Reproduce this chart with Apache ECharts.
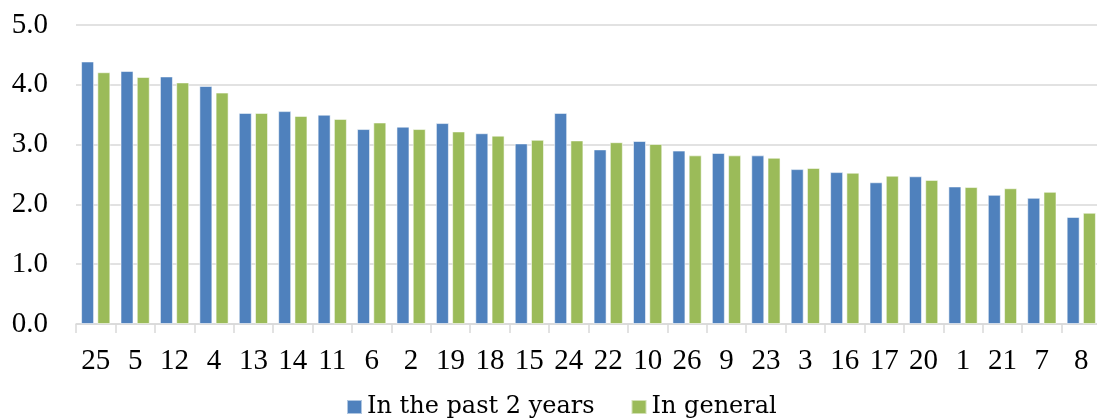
<!DOCTYPE html>
<html>
<head>
<meta charset="utf-8">
<script src="https://cdn.jsdelivr.net/npm/echarts@6/dist/echarts.min.js"></script>
<style>html,body{margin:0;padding:0;background:#fff}#c{width:1097px;height:419px}</style>
</head>
<body>
<div id="c"></div>
<script>
const categories = ['25','5','12','4','13','14','11','6','2','19','18','15','24','22','10','26','9','23','3','16','17','20','1','21','7','8'];
const pastTwoYears = [4.39,4.23,4.14,3.98,3.53,3.56,3.50,3.26,3.30,3.36,3.19,3.02,3.53,2.92,3.06,2.90,2.86,2.82,2.59,2.54,2.37,2.47,2.30,2.16,2.11,1.79];
const inGeneral = [4.21,4.13,4.04,3.87,3.53,3.48,3.43,3.37,3.26,3.22,3.15,3.08,3.07,3.04,3.01,2.82,2.82,2.78,2.61,2.53,2.48,2.41,2.29,2.27,2.21,1.86];
const seriesNames = ['In the past 2 years','In general'];

const AXISFONT = '"Liberation Serif", "DejaVu Serif", serif';
const LEGENDFONT = '"DejaVu Serif", "Liberation Serif", serif';
const chart = echarts.init(document.getElementById('c'), null, {renderer:'canvas'});
chart.setOption({
  animation:false,
  backgroundColor:'#fff',
  grid:{left:76, width:1025, top:25, height:299, containLabel:false, outerBoundsMode:'none'},
  legend:{
    data:seriesNames, left:346, top:395, itemWidth:15, itemHeight:14, itemGap:36,
    icon:'rect', padding:[0,0,0,0],
    textStyle:{fontFamily:LEGENDFONT, fontSize:24, color:'#000'}
  },
  xAxis:{
    type:'category', data:categories,
    axisLine:{lineStyle:{color:'#d9d9d9', width:1.5}},
    axisTick:{show:true, length:9, lineStyle:{color:'#d9d9d9', width:1.5}},
    axisLabel:{fontFamily:AXISFONT, fontSize:29, color:'#000', margin:23, interval:0}
  },
  yAxis:{
    type:'value', min:0, max:5, interval:1,
    axisLine:{show:false}, axisTick:{show:false},
    splitLine:{lineStyle:{color:'#d9d9d9', width:1.5}},
    axisLabel:{fontFamily:AXISFONT, fontSize:29, color:'#000', margin:28, formatter:v=>v.toFixed(1)}
  },
  series:[
    {name:seriesNames[0], type:'bar', data:pastTwoYears, barWidth:13, barGap:'25%',
     itemStyle:{color:'#4F81BD', borderColor:'rgba(255,255,255,0.55)', borderWidth:1}},
    {name:seriesNames[1], type:'bar', data:inGeneral, barWidth:13,
     itemStyle:{color:'#9BBB59', borderColor:'rgba(255,255,255,0.55)', borderWidth:1}}
  ]
});
</script>
</body>
</html>
